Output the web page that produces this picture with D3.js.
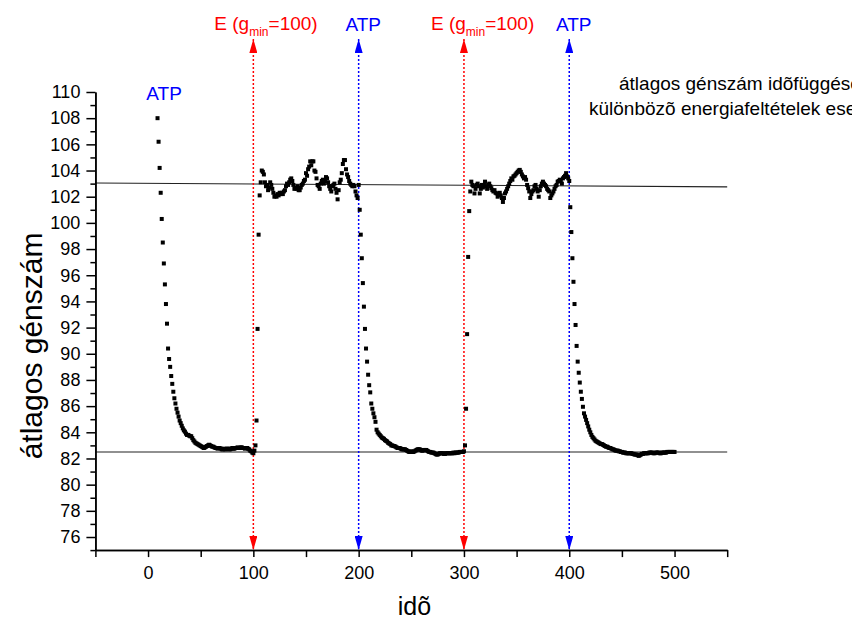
<!DOCTYPE html>
<html><head><meta charset="utf-8">
<script src="https://cdn.jsdelivr.net/npm/d3@7"></script>
<style>
body{margin:0;background:#fff}
svg{display:block}
text{font-family:"Liberation Sans",Arial,sans-serif}
</style>
</head><body>
<svg id="chart" width="852" height="619"></svg>
<script>
// ---- data (time step = 1) ----
const segmentStart = [9, 101, 201, 301, 401];
const seg1 = [108.0,106.2,104.2,102.3,100.3,98.5,96.9,95.3,93.8,92.3,90.4,89.6,89.0,88.3,87.7,87.1,86.6,86.2,85.8,85.5,85.2,84.9,84.7,84.5,84.3,84.15,84.05,83.9,83.8,83.8,83.75,83.7,83.7,83.55,83.4,83.3,83.2,83.15,83.1,83.05,83.0,82.95,82.9,82.85,82.8,82.85,82.9,82.95,83.0,83.05,83.0,82.95,82.9,82.9,82.85,82.8,82.8,82.75,82.8,82.8,82.75,82.7,82.7,82.75,82.7,82.7,82.75,82.75,82.7,82.7,82.75,82.8,82.75,82.75,82.8,82.8,82.85,82.8,82.8,82.85,82.85,82.8,82.8,82.75,82.8,82.8,82.75,82.7,82.6,82.55,82.45,82.4];
const seg2 = [82.6,83.0,84.9,91.9,99.1,102.1,103.1,104.0,103.9,103.7,103.1,102.8,102.9,102.5,102.7,103.1,102.9,102.6,102.3,102.0,102.1,102.0,102.2,102.1,102.3,102.2,102.3,102.2,102.4,102.5,102.8,103.0,102.9,103.1,103.3,103.4,103.2,102.9,102.6,102.7,102.6,102.8,102.5,102.5,102.7,102.9,103.0,103.2,103.3,103.8,103.6,104.1,104.3,104.7,104.4,104.7,104.7,104.0,103.9,103.4,102.9,102.8,102.6,103.0,103.2,103.3,103.0,103.2,103.5,103.4,103.1,102.8,102.6,102.4,102.8,102.9,103.0,102.6,102.3,101.8,102.5,103.1,103.3,103.8,104.5,104.8,104.8,104.1,103.7,103.5,103.2,103.0,102.9,102.8,102.9,102.8,102.4,102.1,101.9,102.9];
const seg3 = [101.0,99.1,97.3,95.4,93.6,91.9,90.4,89.4,88.4,87.6,87.05,86.2,85.8,85.45,85.15,84.8,84.2,84.0,83.9,83.8,83.7,83.6,83.55,83.5,83.4,83.35,83.3,83.2,83.15,83.1,83.0,83.0,82.95,82.95,82.9,82.85,82.8,82.8,82.8,82.75,82.7,82.7,82.7,82.7,82.65,82.6,82.55,82.5,82.5,82.55,82.5,82.5,82.55,82.6,82.65,82.7,82.7,82.7,82.65,82.6,82.6,82.65,82.65,82.65,82.6,82.55,82.5,82.5,82.45,82.45,82.45,82.4,82.35,82.3,82.3,82.35,82.4,82.4,82.4,82.4,82.35,82.35,82.4,82.4,82.4,82.4,82.4,82.4,82.4,82.45,82.4,82.45,82.45,82.45,82.45,82.5,82.5,82.5,82.5,82.55];
const seg4 = [83.0,85.8,91.5,97.4,100.9,102.4,103.15,102.9,102.8,102.25,102.6,102.9,103.0,102.8,102.25,102.6,102.9,102.7,102.9,103.15,102.8,102.6,102.9,103.0,102.8,102.65,102.5,102.4,102.5,102.3,102.25,102.0,102.2,102.3,102.1,101.9,101.6,101.9,102.25,102.4,102.6,102.8,103.0,103.2,103.4,103.3,103.55,103.6,103.7,103.8,103.9,104.0,104.05,103.9,103.7,103.55,103.4,103.5,103.3,102.9,102.65,102.4,101.9,102.2,102.4,102.5,102.8,102.9,102.6,102.4,102.0,102.5,102.8,103.0,103.15,103.0,102.9,102.8,102.6,102.5,102.4,101.9,102.1,102.25,102.4,102.6,102.8,102.9,103.15,103.2,103.3,103.2,103.0,103.4,103.5,103.6,103.8,103.55,103.4,103.2];
const seg5 = [101.2,99.3,97.3,95.5,93.8,92.2,90.6,89.4,88.55,87.8,87.1,86.55,85.95,85.45,85.2,84.95,84.7,84.45,84.2,84.0,83.8,83.65,83.55,83.45,83.35,83.3,83.25,83.2,83.15,83.1,83.1,83.05,83.0,82.95,82.9,82.9,82.85,82.8,82.8,82.75,82.7,82.7,82.65,82.6,82.6,82.6,82.55,82.55,82.5,82.5,82.45,82.45,82.45,82.4,82.4,82.4,82.4,82.4,82.4,82.35,82.35,82.3,82.3,82.3,82.25,82.2,82.25,82.3,82.35,82.35,82.4,82.4,82.4,82.4,82.4,82.45,82.45,82.45,82.45,82.4,82.4,82.45,82.45,82.45,82.45,82.4,82.4,82.45,82.45,82.45,82.45,82.45,82.5,82.5,82.5,82.5,82.5,82.5,82.5,82.5];
const segments = [seg1, seg2, seg3, seg4, seg5];

const xTicks = [0, 100, 200, 300, 400, 500];
const xMinorTicks = [-50, 50, 150, 250, 350, 450, 550];
const yTicks = [76,78,80,82,84,86,88,90,92,94,96,98,100,102,104,106,108,110];
const yMinorTicks = [75,77,79,81,83,85,87,89,91,93,95,97,99,101,103,105,107,109];

const switchTimes = [100, 200, 300, 400];
const switchKinds = ["E", "ATP", "E", "ATP"];
const upperLevel = [[-50, 103.05], [550, 102.75]];
const lowerLevel = [[-50, 82.5], [550, 82.5]];

// ---- build ----
const points = [];
segments.forEach((s, i) => s.forEach((v, j) => points.push({t: segmentStart[i] + j, v})));

const svg = d3.select("#chart");
svg.append("rect").attr("width", 852).attr("height", 619).attr("fill", "#fff");

const x = d3.scaleLinear().domain([-50, 550]).range([95.4, 727.2]);
const y = d3.scaleLinear().domain([75, 110]).range([550.1, 92]);

const defs = svg.append("defs");
[["red","#ff0000"],["blue","#0000ff"]].forEach(([n,c]) => {
  defs.append("marker").attr("id","arr-"+n)
    .attr("viewBox","0 0 14 8").attr("refX",14).attr("refY",4)
    .attr("markerWidth",14).attr("markerHeight",8)
    .attr("markerUnits","userSpaceOnUse")
    .attr("orient","auto-start-reverse")
    .append("path").attr("d","M0,0L14,4L0,8Z").attr("fill",c);
});

// fit lines
const line = d3.line().x(d => x(d[0])).y(d => y(d[1]));
svg.append("path").attr("d", line(upperLevel)).attr("stroke","#222").attr("stroke-width",1.1).attr("fill","none");
svg.append("path").attr("d", line(lowerLevel)).attr("stroke","#222").attr("stroke-width",1.1).attr("fill","none");

// switch arrows
switchTimes.forEach((t, i) => {
  const n = switchKinds[i] === "E" ? "red" : "blue";
  const c = n === "red" ? "#ff0000" : "#0000ff";
  svg.append("line")
    .attr("x1", x(t)).attr("x2", x(t))
    .attr("y1", y(114.05)).attr("y2", y(75))
    .attr("stroke", c).attr("stroke-width", 1.5)
    .attr("stroke-dasharray", "2,2")
    .attr("marker-start", `url(#arr-${n})`)
    .attr("marker-end", `url(#arr-${n})`);
});

// data points
svg.append("g").selectAll("rect").data(points).join("rect")
  .attr("x", d => x(d.t) - 2).attr("y", d => y(d.v) - 2)
  .attr("width", 4).attr("height", 4).attr("fill", "#000");

// axes
const gx = svg.append("g").attr("transform", `translate(0,${y(75)})`);
gx.call(d3.axisBottom(x).tickValues(xTicks).tickSize(7).tickSizeOuter(0).tickPadding(9));
const gxm = svg.append("g").attr("transform", `translate(0,${y(75)})`);
gxm.call(d3.axisBottom(x).tickValues(xMinorTicks).tickSize(7).tickSizeOuter(0).tickFormat(""));
const gy = svg.append("g").attr("transform", `translate(${x(-50)},0)`);
gy.call(d3.axisLeft(y).tickValues(yTicks).tickSize(9).tickSizeOuter(0).tickPadding(6));
const gym = svg.append("g").attr("transform", `translate(${x(-50)},0)`);
gym.call(d3.axisLeft(y).tickValues(yMinorTicks).tickSize(5).tickSizeOuter(0).tickFormat(""));
[gx,gxm,gy,gym].forEach(g => {
  g.selectAll("path,line").attr("stroke","#000").attr("stroke-width",1.5);
  g.selectAll("text").attr("fill","#000").style("font-size","18px").style("font-family",'"Liberation Sans",Arial,sans-serif');
});

// axis titles
svg.append("text").attr("x", x(253)).attr("y", 615).attr("text-anchor","middle")
  .style("font-size","25px").text("idõ");
svg.append("text").attr("transform", `translate(42,${y(90.6)}) rotate(-90)`).attr("text-anchor","middle")
  .style("font-size","30px").text("átlagos génszám");

// top labels
const eOffsets = [-39, -33];
let ei = 0;
switchTimes.forEach((t, i) => {
  if (switchKinds[i] === "E") {
    const tx = svg.append("text").attr("x", x(t) + eOffsets[ei++]).attr("y", 30).attr("fill","#ff0000").style("font-size","19px");
    tx.append("tspan").text("E (g");
    tx.append("tspan").attr("dy", 6).style("font-size","12px").text("min");
    tx.append("tspan").attr("dy", -6).text("=100)");
  } else {
    svg.append("text").attr("x", x(t) + 4.5).attr("y", 31).attr("text-anchor","middle")
      .attr("fill","#0000ff").style("font-size","19px").text("ATP");
  }
});
svg.append("text").attr("x", x(15.2)).attr("y", y(109.4)).attr("text-anchor","middle")
  .attr("fill","#0000ff").style("font-size","19px").text("ATP");

// description (cut by the right edge, as in the original)
svg.append("text").attr("x", 619).attr("y", 90).style("font-size","19px").text("átlagos génszám idõfüggése");
svg.append("text").attr("x", 589).attr("y", 115).style("font-size","19px").text("különbözõ energiafeltételek esetén");
</script>
</body></html>
